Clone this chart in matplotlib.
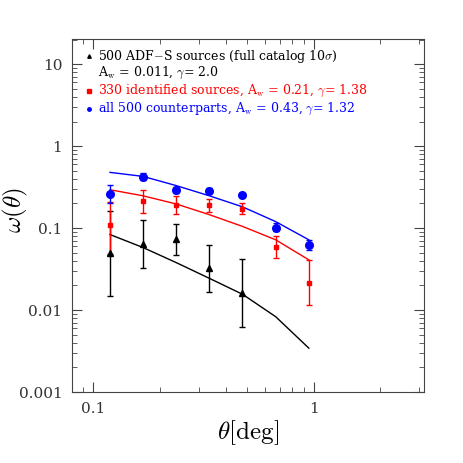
import matplotlib
matplotlib.use('Agg')
import matplotlib.pyplot as plt
from matplotlib.ticker import LogLocator, FuncFormatter, NullFormatter

plt.rcParams['mathtext.fontset'] = 'cm'
plt.rcParams['font.family'] = ['DejaVu Serif']

# angular bins (deg)
theta = [0.119, 0.168, 0.238, 0.336, 0.475, 0.672, 0.95]

# all 500 counterparts (blue)
w_all = [0.26, 0.425, 0.29, 0.286, 0.256, 0.1016, 0.0625]
w_all_hi = [0.336, 0.466, 0.32, 0.305, 0.272, 0.114, 0.072]
w_all_lo = [0.204, 0.387, 0.265, 0.268, 0.240, 0.093, 0.0543]
fit_all = [0.479, 0.428, 0.33, 0.248, 0.182, 0.12, 0.072]

# 330 identified sources (red)
w_id = [0.109, 0.216, 0.193, 0.189, 0.169, 0.0585, 0.0216]
w_id_hi = [0.21, 0.294, 0.247, 0.226, 0.2, 0.08, 0.0406]
w_id_lo = [0.048, 0.155, 0.148, 0.158, 0.148, 0.0433, 0.0115]
fit_id = [0.294, 0.248, 0.197, 0.146, 0.105, 0.072, 0.041]

# full catalog (black)
theta_cat = theta[:5]
w_cat = [0.0494, 0.0643, 0.074, 0.0327, 0.0163]
w_cat_hi = [0.162, 0.124, 0.111, 0.0625, 0.0425]
w_cat_lo = [0.0147, 0.0324, 0.0476, 0.0168, 0.0063]
fit_cat = [0.0835, 0.058, 0.0379, 0.0244, 0.0156, 0.0083, 0.00343]

legend_lines = [
    '500 ADF$-$S sources (full catalog 10$\\sigma$)',
    'A$_{\\rm w}$ = 0.011, $\\gamma$= 2.0',
    '330 identified sources, A$_{\\rm w}$ = 0.21, $\\gamma$= 1.38',
    'all 500 counterparts, A$_{\\rm w}$ = 0.43, $\\gamma$= 1.32',
]


def yerr(v, hi, lo):
    return [[a - b for a, b in zip(v, lo)], [b - a for a, b in zip(v, hi)]]


fig = plt.figure(figsize=(4.63, 4.63), dpi=100)
ax = fig.add_axes([0.1555, 0.1533, 0.760, 0.762])

ax.plot(theta, fit_cat, color='black', lw=1.0)
ax.plot(theta, fit_id, color='red', lw=1.0)
ax.plot(theta, fit_all, color='blue', lw=1.0)

ax.errorbar(theta_cat, w_cat, yerr=yerr(w_cat, w_cat_hi, w_cat_lo), fmt='^',
            color='black', ms=4.5, capsize=2.5, elinewidth=1.0, capthick=1.0)
ax.errorbar(theta, w_id, yerr=yerr(w_id, w_id_hi, w_id_lo), fmt='s',
            color='red', ms=3.5, capsize=2.5, elinewidth=1.0, capthick=1.0)
ax.errorbar(theta, w_all, yerr=yerr(w_all, w_all_hi, w_all_lo), fmt='o',
            color='blue', ms=5.5, capsize=2.5, elinewidth=1.0, capthick=1.0)

ax.set_xscale('log')
ax.set_yscale('log')
ax.set_xlim(0.08, 3.16)
ax.set_ylim(0.001, 20.2)

fmt = FuncFormatter(lambda v, p: '%g' % v)
for axis in (ax.xaxis, ax.yaxis):
    axis.set_major_locator(LogLocator(base=10))
    axis.set_minor_locator(LogLocator(base=10, subs=range(2, 10)))
    axis.set_major_formatter(fmt)
    axis.set_minor_formatter(NullFormatter())

ax.tick_params(which='both', direction='in', top=True, right=True, color='#444444')
ax.tick_params(which='major', length=7, labelsize=11, pad=7)
ax.tick_params(which='minor', length=3.5)
for lab in ax.get_xticklabels() + ax.get_yticklabels():
    lab.set_color('#333333')
for s in ax.spines.values():
    s.set_color('#444444')

ax.set_xlabel('$\\theta[\\rm deg]$', fontsize=18)
ax.set_ylabel('$\\omega(\\theta)$', fontsize=18)
ax.xaxis.set_label_coords(0.5, -0.116)
ax.yaxis.set_label_coords(-0.162, 0.516)
ax.xaxis.label.set_va('center')
ax.yaxis.label.set_va('center')

# legend-like annotation
ys = [0.952, 0.904, 0.853, 0.802]
cols = ['black', 'black', 'red', 'blue']
marks = ['^', None, 's', 'o']
for y, txt, c, m in zip(ys, legend_lines, cols, marks):
    if m:
        ax.plot([0.048], [y], marker=m, color=c, ms=2.5, transform=ax.transAxes, clip_on=False)
    ax.text(0.074, y, txt, color=c, fontsize=9.0, va='center', ha='left', transform=ax.transAxes)

fig.savefig('out.png', dpi=100)
